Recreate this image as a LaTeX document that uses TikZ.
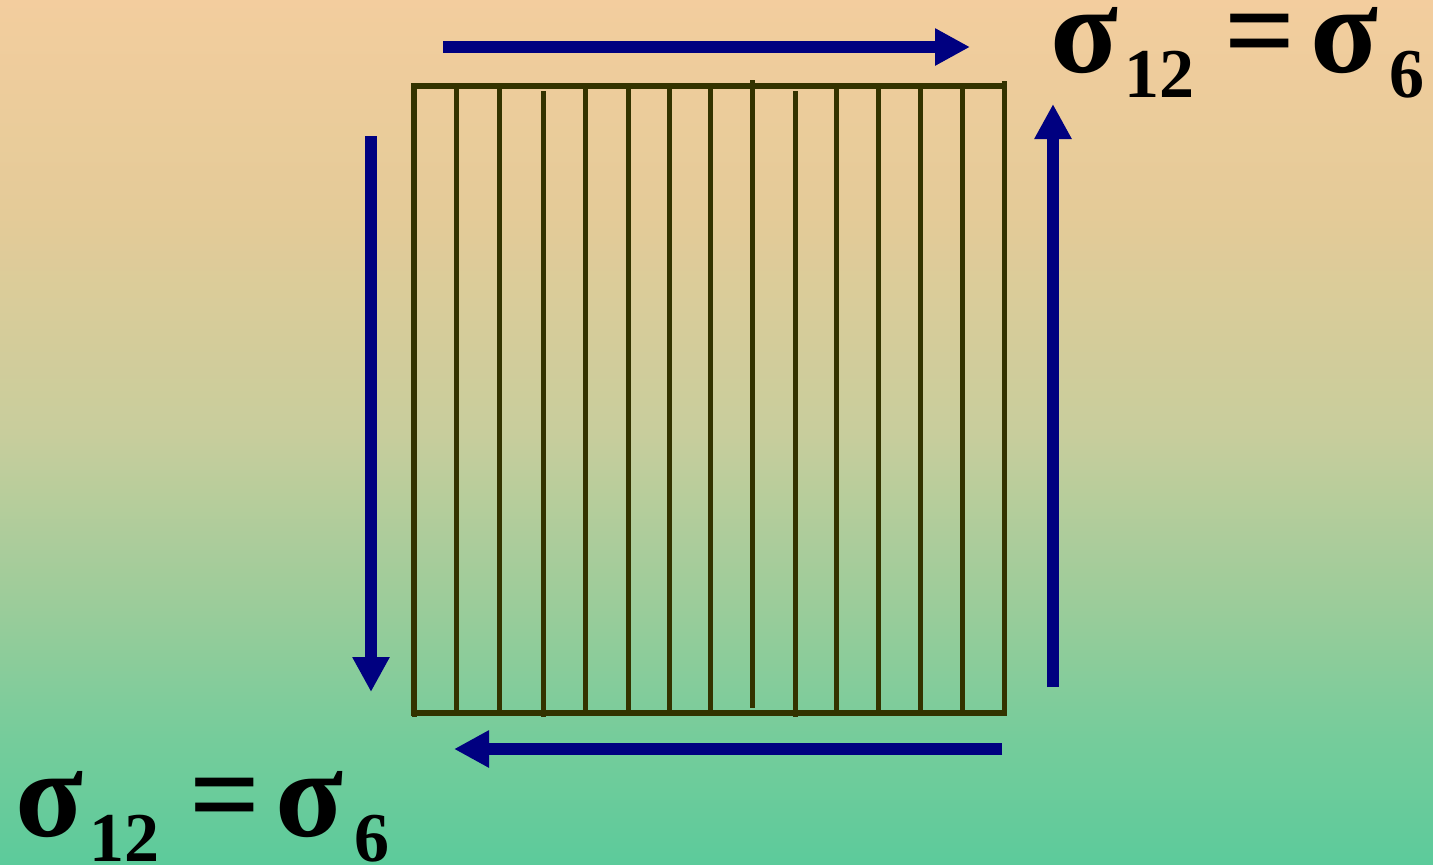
\documentclass[tikz,border=0pt]{standalone}
\usepackage{fontspec}
\setmainfont{Liberation Serif}
\usetikzlibrary{arrows.meta}
\definecolor{bgA}{RGB}{243,205,158}
\definecolor{bgB}{RGB}{228,203,152}
\definecolor{bgC}{RGB}{200,205,156}
\definecolor{bgD}{RGB}{155,204,154}
\definecolor{bgE}{RGB}{118,204,155}
\definecolor{bgF}{RGB}{92,203,155}
\definecolor{fibre}{RGB}{51,51,0}
\definecolor{navyarrow}{RGB}{0,0,128}
\pgfdeclareverticalshading{bggrad}{100bp}{color(0bp)=(bgF); color(25bp)=(bgF); color(32.5bp)=(bgE); color(40bp)=(bgD); color(50bp)=(bgC); color(62.5bp)=(bgB); color(75bp)=(bgA); color(100bp)=(bgA)}
\tikzset{
  fibreline/.style={draw=fibre, line width=5pt, line cap=butt},
  shear/.style={draw=navyarrow, line width=12pt, -{Triangle[length=35pt,width=35pt]}},
  lab/.style={anchor=base west, inner sep=0pt, font=\bfseries\fontsize{125pt}{130pt}\selectfont},
}
\newcommand{\subsc}[1]{\raisebox{-25pt}{\fontsize{70pt}{74pt}\selectfont #1}}
\begin{document}
\begin{tikzpicture}[x=1pt,y=-1pt]
\useasboundingbox (0,0) rectangle (1433,865);
\fill[shading=bggrad] (0,0) rectangle (1433,865);
% frame
\coordinate (tl) at (414,86);
\coordinate (br) at (1004.5,713);
\draw[fibreline, line width=5.5pt] (tl) rectangle (br);
\draw[fibreline] (414,711) -- (414,717);
\draw[fibreline] (1004.5,88) -- (1004.5,81);
% fibres
\foreach \x in {456,499,585,628,669,836,878,920,962}
  \draw[fibreline] (\x,86) -- (\x,713);
\draw[fibreline] (543,91) -- (543,717);
\draw[fibreline] (710,83) -- (710,713);
\draw[fibreline] (752,80) -- (752,708);
\draw[fibreline] (795,91) -- (795,717);
% shear arrows
\coordinate (ta) at (443,47);  \coordinate (tb) at (970,47);
\coordinate (ra) at (1053,687); \coordinate (rb) at (1053,104);
\coordinate (ba) at (1002,749); \coordinate (bb) at (454,749);
\coordinate (la) at (371,136);  \coordinate (lb) at (371,692);
\draw[shear] (ta) -- (tb);
\draw[shear] (ra) -- (rb);
\draw[shear] (ba) -- (bb);
\draw[shear] (la) -- (lb);
% labels
\node[lab] (toplab) at (1050,72) {σ\hspace{6pt}\subsc{12}\hspace{30pt}=\hspace{15pt}σ\hspace{11pt}\subsc{6}};
\node[lab] (botlab) at (15,836) {σ\hspace{6pt}\subsc{12}\hspace{30pt}=\hspace{15pt}σ\hspace{11pt}\subsc{6}};
\end{tikzpicture}
\end{document}
